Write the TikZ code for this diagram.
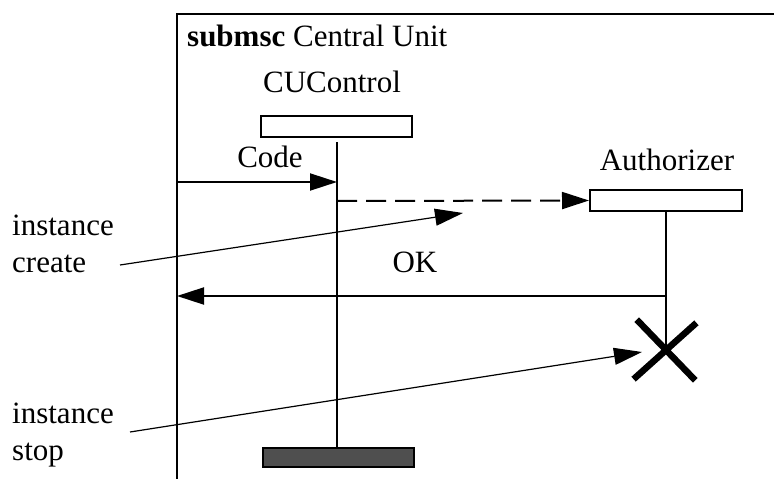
\documentclass[tikz,border=0pt]{standalone}
\usepackage{fontspec}
\setmainfont{Liberation Serif}
\usetikzlibrary{arrows.meta,calc}
\begin{document}
\begin{tikzpicture}[x=1pt,y=-1pt,
  lbl/.style={font=\fontsize{31}{36}\selectfont, inner sep=0pt},
  line/.style={line width=2pt},
  msg/.style={line width=2pt, -{Triangle[length=27pt,width=17pt]}},
  pointer/.style={line width=1.2pt, -{Triangle[length=28pt,width=17pt]}},
  headbox/.style={draw, line width=2pt, minimum width=151pt, minimum height=21pt, inner sep=0pt},
  endbox/.style={draw, line width=2pt, fill=black!69, minimum width=151pt, minimum height=19pt, inner sep=0pt},
  stopmark/.style={line width=6.5pt, line cap=rect},
]
\useasboundingbox (0,0) rectangle (774,479);
\clip (0,0) rectangle (774,479);

% frame of the submsc
\coordinate (frameBL) at (177,490);
\coordinate (frameTL) at (177,14);
\coordinate (frameTR) at (790,14);
\draw[line] (frameBL) -- (frameTL) -- (frameTR);
\node[lbl, anchor=base west] (title) at (187,46) {\textbf{submsc} Central Unit};

% instance CUControl
\node[lbl, anchor=base] (cuname) at (332,92) {CUControl};
\node[headbox] (cu) at (336.5,126) {};
\node[endbox] (cuend) at (338.5,457.5) {};
\coordinate (cutop) at (337,142);
\coordinate (cubot) at (337,449);
\draw[line] (cutop) -- (cubot);

% instance Authorizer
\node[lbl, anchor=base] (azname) at (667,170) {Authorizer};
\node[headbox, minimum width=152pt] (az) at (666,200.5) {};
\coordinate (stop) at (666,351);
\draw[line] (az.south) -- (stop);
\draw[stopmark] ($(stop)+(-27,-29)$) -- ($(stop)+(27,27)$);
\draw[stopmark] ($(stop)+(28,-26)$) -- ($(stop)+(-30,26)$);

% messages
\coordinate (codeL) at (177,182);
\coordinate (codeR) at (337,182);
\draw[msg] (codeL) -- (codeR);
\node[lbl, anchor=base] (codelbl) at (270,167) {Code};

\coordinate (createL) at (337,201);
\draw[msg, dash pattern=on 20pt off 9pt] (createL) -- (az.west);

\coordinate (okR) at (665,296);
\coordinate (okL) at (177,296);
\draw[msg] (okR) -- (okL);
\node[lbl, anchor=base] (oklbl) at (415,272) {OK};

% annotations
\node[lbl, anchor=base west] (inst1) at (12,235) {instance};
\node[lbl, anchor=base west] (create) at (12,272) {create};
\coordinate (c1from) at (120,265);
\coordinate (c1to) at (463,213);
\draw[pointer] (c1from) -- (c1to);

\node[lbl, anchor=base west] (inst2) at (12,423) {instance};
\node[lbl, anchor=base west] (stoplbl) at (12,460) {stop};
\coordinate (c2from) at (130,432);
\coordinate (c2to) at (642,352);
\draw[pointer] (c2from) -- (c2to);
\end{tikzpicture}
\end{document}
